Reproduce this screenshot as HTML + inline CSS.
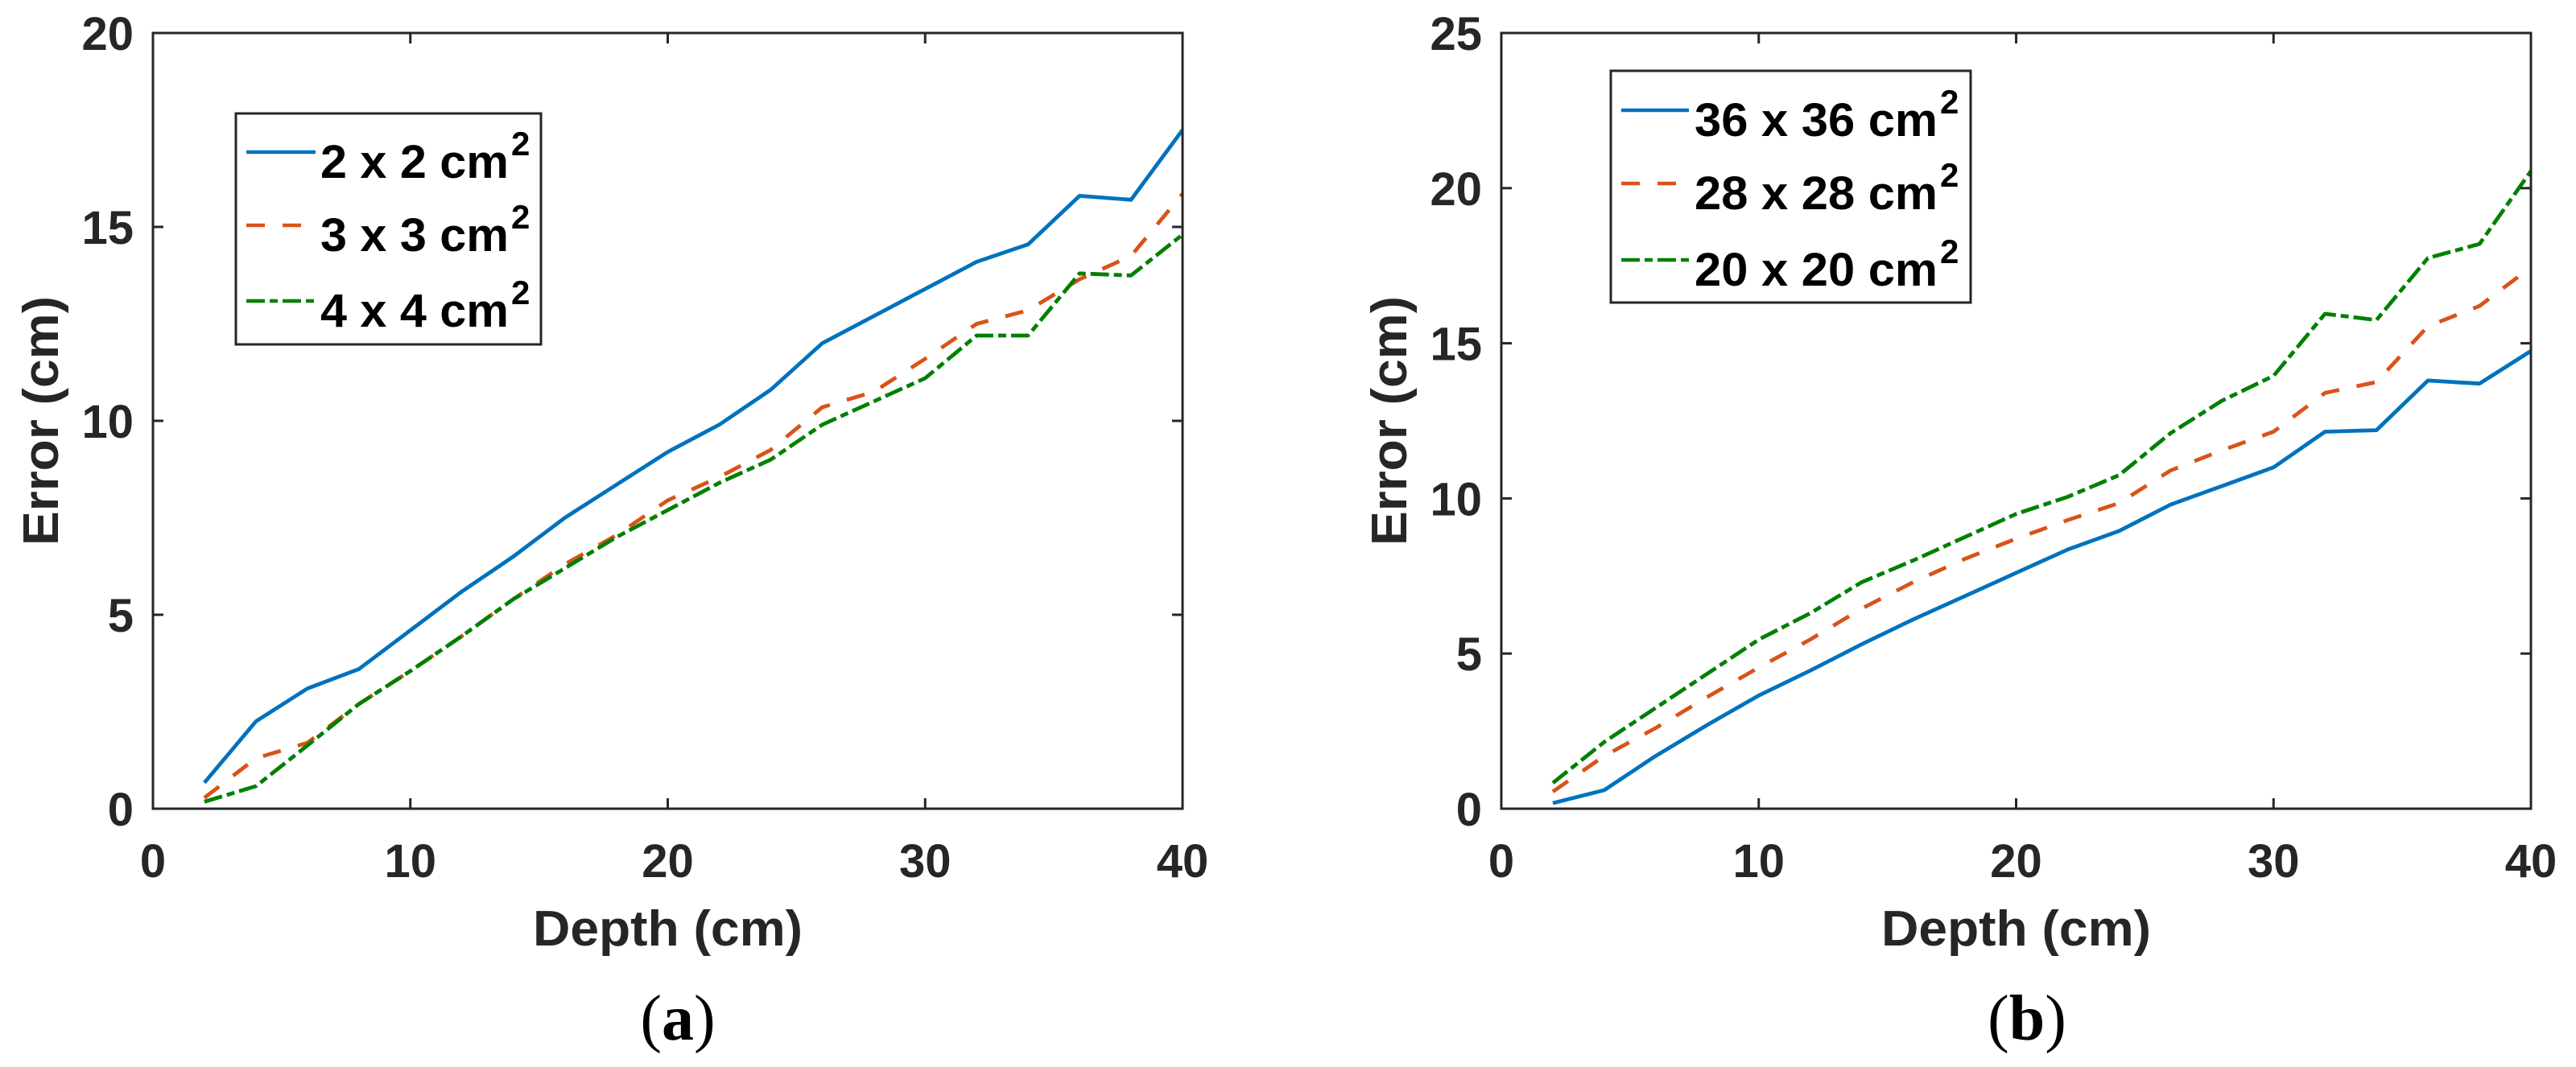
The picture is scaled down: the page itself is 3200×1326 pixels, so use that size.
<!DOCTYPE html>
<html><head><meta charset="utf-8">
<style>
html,body{margin:0;padding:0;background:#fff;}
svg{display:block;}
text{font-family:"Liberation Sans",Arial,sans-serif;font-weight:bold;fill:#262626;}
</style></head>
<body>
<svg id="fig" width="3200" height="1326" viewBox="0 0 3200 1326" xmlns="http://www.w3.org/2000/svg">
</svg>
<script>
const depths = [2,4,6,8,10,12,14,16,18,20,22,24,26,28,30,32,34,36,38,40];
const aBlue   = [0.67,2.25,3.1,3.6,4.6,5.6,6.5,7.5,8.35,9.2,9.9,10.8,12.0,12.7,13.4,14.1,14.55,15.8,15.7,17.5];
const aOrange = [0.28,1.3,1.7,2.7,3.55,4.45,5.4,6.3,7.05,7.95,8.55,9.25,10.35,10.75,11.6,12.5,12.85,13.65,14.25,15.85];
const aGreen  = [0.18,0.58,1.63,2.7,3.55,4.45,5.4,6.2,7.0,7.7,8.4,9.0,9.9,10.5,11.1,12.2,12.2,13.8,13.75,14.8];
const bBlue   = [0.18,0.6,1.7,2.7,3.65,4.45,5.3,6.1,6.85,7.6,8.35,8.95,9.8,10.4,11.0,12.15,12.2,13.8,13.7,14.75];
const bOrange = [0.55,1.7,2.6,3.6,4.55,5.45,6.45,7.3,8.05,8.7,9.3,9.85,10.9,11.55,12.15,13.4,13.75,15.55,16.2,17.45];
const bGreen  = [0.83,2.15,3.25,4.35,5.45,6.3,7.3,8.0,8.75,9.5,10.05,10.75,12.1,13.15,13.95,15.95,15.75,17.75,18.2,20.55];
const xTicks = [0,10,20,30,40];
const aYTicks = [0,5,10,15,20];
const bYTicks = [0,5,10,15,20,25];
const aLabels = ["2 x 2 cm","3 x 3 cm","4 x 4 cm"];
const bLabels = ["36 x 36 cm","28 x 28 cm","20 x 20 cm"];

const NS = "http://www.w3.org/2000/svg";
const svg = document.getElementById('fig');
function mk(tag, attrs, parent){
  const e = document.createElementNS(NS, tag);
  for (const k in attrs) e.setAttribute(k, attrs[k]);
  (parent||svg).appendChild(e);
  return e;
}
const styles = [
  {color:"#0072BD", dash:""},
  {color:"#D95319", dash:"23,22"},
  {color:"#008000", dash:"23,6,10,6"}
];

function panel(id, L, R, T, B, ymax, yTicks, series, labels, leg, caption, capX, ytitleX){
  const g = mk('g', {});
  
  
  const sx = v => L + (v - 0) / 40 * (R - L);
  const sy = v => B - v / ymax * (B - T);
  series.forEach((vals, si) => {
    const pts = depths.map((d, i) => sx(d).toFixed(1) + ',' + sy(vals[i]).toFixed(1)).join(' ');
    const pl = mk('polyline', {points: pts, fill: 'none', stroke: styles[si].color, 'stroke-width': 4.8, 'stroke-linejoin': 'round', 'stroke-dasharray': styles[si].dash}, g);
    
    
  });
  const box = mk('rect', {x: L, y: T, width: R - L, height: B - T, fill: 'none', stroke: '#262626', 'stroke-width': 3}, g);
  
  
  xTicks.forEach(v => {
    const x = sx(v);
    mk('line', {x1: x, y1: B, x2: x, y2: B - 13, stroke: '#262626', 'stroke-width': 3}, g);
    mk('line', {x1: x, y1: T, x2: x, y2: T + 13, stroke: '#262626', 'stroke-width': 3}, g);
    const t = mk('text', {x: x, y: 1090, 'font-size': 58, 'text-anchor': 'middle'}, g);
    t.textContent = v;
    
    
  });
  yTicks.forEach(v => {
    const y = sy(v);
    mk('line', {x1: L, y1: y, x2: L + 13, y2: y, stroke: '#262626', 'stroke-width': 3}, g);
    mk('line', {x1: R, y1: y, x2: R - 13, y2: y, stroke: '#262626', 'stroke-width': 3}, g);
    const t = mk('text', {x: L - 24, y: y + 21, 'font-size': 58, 'text-anchor': 'end'}, g);
    t.textContent = v;
    
    
  });
  const xt = mk('text', {x: (L + R) / 2, y: 1175, 'font-size': 62, 'text-anchor': 'middle', textLength: 335, lengthAdjust: 'spacingAndGlyphs'}, g);
  xt.textContent = 'Depth (cm)';
  
  
  const yc = (T + B) / 2;
  const yt = mk('text', {x: ytitleX, y: yc, 'font-size': 62, 'text-anchor': 'middle', textLength: 310, lengthAdjust: 'spacingAndGlyphs', transform: 'rotate(-90 ' + ytitleX + ' ' + yc + ') translate(0 22)'}, g);
  yt.textContent = 'Error (cm)';
  
  
  const lg = mk('g', {}, g);
  
  
  mk('rect', {x: leg.x, y: leg.y, width: leg.w, height: leg.h, fill: '#fff', stroke: '#262626', 'stroke-width': 3}, lg);
  labels.forEach((lab, i) => {
    const ry = leg.rows[i];
    const ent = mk('g', {}, lg);
    
    
    mk('line', {x1: leg.lx1, y1: ry, x2: leg.lx2, y2: ry, stroke: styles[i].color, 'stroke-width': 4.5, 'stroke-dasharray': styles[i].dash}, ent);
    const t = mk('text', {x: leg.tx, y: ry + 32, 'font-size': 58, style: 'fill:#000', textLength: leg.tw, lengthAdjust: 'spacingAndGlyphs'}, ent);
    t.textContent = lab;
    const s = mk('text', {x: leg.tx + leg.tw + 3, y: ry + 4, 'font-size': 42, style: 'fill:#000'}, ent);
    s.textContent = '2';
  });
  const cp = mk('text', {x: capX, y: 1292, 'font-size': 80, 'text-anchor': 'middle', style: 'font-family:"Liberation Serif",serif;fill:#000;font-weight:normal'}, g);
  cp.innerHTML = '(<tspan font-weight="bold">' + caption + '</tspan>)';
  
  
}

panel('a', 190, 1469, 41, 1005, 20, aYTicks, [aBlue, aOrange, aGreen], aLabels,
  {x: 293, y: 141, w: 379, h: 287, rows: [189, 280, 374], lx1: 306, lx2: 392, tx: 398, tw: 234}, 'a', 842, 50);
panel('b', 1865, 3144, 41, 1005, 25, bYTicks, [bBlue, bOrange, bGreen], bLabels,
  {x: 2001, y: 88, w: 447, h: 288, rows: [137, 228, 323], lx1: 2014, lx2: 2098, tx: 2105, tw: 302}, 'b', 2518, 1725);
</script>
</body></html>
